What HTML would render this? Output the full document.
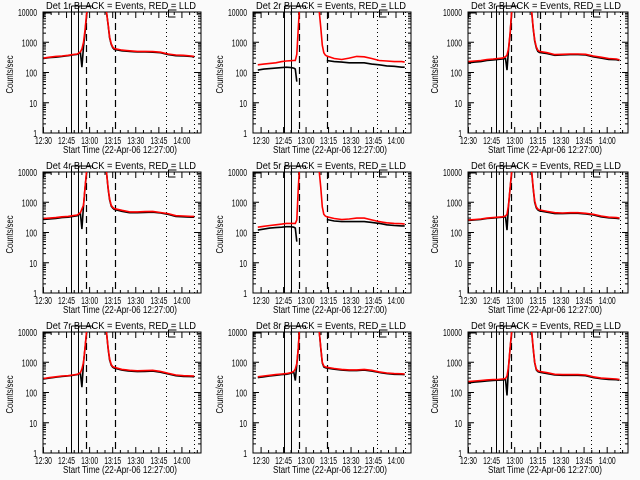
<!DOCTYPE html>
<html><head><meta charset="utf-8"><style>
html,body{margin:0;padding:0;background:#fafafa}
svg{display:block}
text{font-family:"Liberation Sans",sans-serif;font-size:10px;fill:#000}
</style></head><body>
<svg id="chart" width="640" height="480" xmlns="http://www.w3.org/2000/svg"></svg>
<script>
// time samples (minutes after 12:00)
const times = [29,33,37,41,45,48,51,53,54,55,56,57,58,60,65,69,70,71,72,73,74,75,80,85,90,95,100,105,110,115,120,125,127];
const detNames = ["1r","2r","3r","4r","5r","6r","7r","8r","9r"];
const redSeries = [
 [300,320,340,350,370,390,410,480,600,1000,2500,8000,20000,30000,30000,20000,10000,4000,1500,900,700,620,550,520,500,500,490,470,410,380,370,350,340],
 [180,190,200,210,230,240,245,250,250,400,3000,20000,30000,30000,30000,20000,10000,3000,800,450,380,350,290,270,300,340,330,290,250,240,230,230,220],
 [230,240,250,270,280,290,300,330,380,600,2000,10000,20000,30000,30000,20000,10000,3000,1200,700,550,500,450,390,400,410,410,400,350,320,290,280,260],
 [290,300,310,330,340,360,380,450,600,800,3000,10000,20000,30000,30000,20000,10000,3000,1300,800,680,620,540,480,480,490,500,460,420,360,350,340,340],
 [150,160,170,180,190,200,200,200,200,260,3000,20000,30000,30000,30000,20000,10000,3000,700,400,350,330,290,270,280,300,300,260,230,210,200,195,190],
 [260,270,280,300,310,320,330,350,400,800,3000,10000,20000,30000,30000,20000,10000,3000,1100,700,600,560,500,450,440,450,450,430,400,350,320,310,300],
 [290,310,330,350,360,380,400,450,600,1000,3000,10000,20000,30000,30000,20000,10000,3000,1300,850,720,680,580,540,520,530,540,500,430,380,360,355,350],
 [330,350,370,390,410,420,450,500,600,900,3000,20000,30000,30000,30000,20000,10000,3000,1000,750,700,680,620,580,560,560,580,540,480,440,420,415,410],
 [230,240,250,260,270,270,280,290,350,700,3000,10000,20000,30000,30000,20000,10000,3000,1000,600,520,500,450,400,390,390,390,380,330,300,290,280,270]
];
const blackSeries = [
 [290,310,320,340,360,380,400,460,150,700,2000,7000,20000,30000,30000,20000,10000,3800,1400,850,660,580,520,500,480,480,470,450,390,360,350,340,320],
 [120,130,135,140,145,150,145,140,130,50,null,null,null,null,null,null,null,null,null,null,null,250,230,220,210,210,210,190,180,165,160,150,150],
 [210,220,230,250,260,270,280,290,120,550,1800,9000,20000,30000,30000,20000,10000,2800,1100,650,500,460,420,370,380,390,390,380,330,300,270,265,250],
 [270,280,290,310,320,340,360,420,130,750,2800,9000,20000,30000,30000,20000,10000,2800,1200,750,640,580,500,450,450,460,470,440,400,340,330,320,320],
 [120,130,140,145,150,155,155,150,140,50,null,null,null,null,null,null,null,null,null,null,null,270,240,230,230,230,230,215,200,180,170,165,165],
 [250,260,270,290,300,310,320,330,120,750,2800,9000,20000,30000,30000,20000,10000,2800,1000,650,560,520,470,420,420,430,430,410,380,330,305,295,285],
 [280,300,320,340,350,370,390,430,150,950,2800,9000,20000,30000,30000,20000,10000,2800,1200,800,680,640,550,510,490,500,510,470,410,360,340,335,330],
 [310,330,350,370,390,400,430,470,250,850,2800,18000,30000,30000,30000,20000,10000,2800,950,700,660,640,590,550,530,530,550,510,460,420,400,395,390],
 [210,220,230,240,250,255,260,270,80,650,2800,9000,20000,30000,30000,20000,10000,2800,950,560,490,470,420,380,370,370,370,360,310,285,270,265,255]
];
const tickLabels = ["12:30","12:45","13:00","13:15","13:30","13:45","14:00"];
const tickMinutes = [30,45,60,75,90,105,120];
const yTickLabels = ["1","10","100","1000","10000"];
const solidEvents = [46.8,51.3];
const dashedEvents = [56.5,75.3];
const dottedEvents = [108.4,127.1];
const colShift = [1,-1.2,1];

const NS="http://www.w3.org/2000/svg";
const svg=document.getElementById('chart');
const colLeft=[43,253,468], colW=[158,158,160], colT0=[29.7,24.6,29.7], colT1=[132.4,130,133.5];
const rowTop=[12,172,332], H=121;
function mk(tag,attrs,parent){const e=document.createElementNS(NS,tag);for(const k in attrs)e.setAttribute(k,attrs[k]);(parent||svg).appendChild(e);return e;}

for(let p=0;p<9;p++){
  const c=p%3,r=Math.floor(p/3);
  const L=colLeft[c],W=colW[c],T=rowTop[r],B=T+H;
  const g=mk('g',{});
  
  
  const xs=t=>L+(t-colT0[c])/(colT1[c]-colT0[c])*W;
  const xb=t=>xs(t+colShift[c]);
  const ys=v=>B-Math.log10(v)/4*H;
  const cp=mk('clipPath',{id:'cp'+p},g);
  mk('rect',{x:L,y:T,width:W,height:H},cp);
  // title
  const title=mk('text',{x:L+3,y:T-3,textLength:150,lengthAdjust:'spacingAndGlyphs'},g);
  title.textContent='Det '+detNames[p]+' BLACK = Events, RED = LLD';
  
  
  // frame
  const fr=mk('rect',{x:L,y:T,width:W,height:H,fill:'none',stroke:'#000','stroke-width':1},g);
  
  
  // y ticks
  for(let d=0;d<=4;d++){
    const y=ys(Math.pow(10,d));
    mk('line',{x1:L,x2:L+6,y1:y,y2:y,stroke:'#000'},g);
    mk('line',{x1:L+W,x2:L+W-6,y1:y,y2:y,stroke:'#000'},g);
    const s=yTickLabels[d];
    const tl=mk('text',{x:L-6,y:y+4,'text-anchor':'end','font-size':'9',textLength:s.length*3.8,lengthAdjust:'spacingAndGlyphs'},g);
    tl.textContent=s;
    
    
    if(d<4)for(let m=2;m<10;m++){const ym=ys(m*Math.pow(10,d));
      mk('line',{x1:L,x2:L+3,y1:ym,y2:ym,stroke:'#000'},g);
      mk('line',{x1:L+W,x2:L+W-3,y1:ym,y2:ym,stroke:'#000'},g);}
  }
  // x ticks
  for(let t=30;t<=130;t+=5){const x=xs(t);if(x<L||x>L+W)continue;const len=(t%15===0)?6:3;
    mk('line',{x1:x,x2:x,y1:B,y2:B-len,stroke:'#000'},g);
    mk('line',{x1:x,x2:x,y1:T,y2:T+len,stroke:'#000'},g);}
  tickMinutes.forEach((t,i)=>{const tl=mk('text',{x:xs(t)-8.5,y:B+11,'font-size':'10',textLength:17,lengthAdjust:'spacingAndGlyphs'},g);
    tl.textContent=tickLabels[i];
    
    });
  const xt=mk('text',{x:L+20,y:B+20,'font-size':'9',textLength:114,lengthAdjust:'spacingAndGlyphs'},g);
  xt.textContent='Start Time (22-Apr-06 12:27:00)';
  
  
  const yt=mk('text',{x:-19,y:0,'font-size':'9',textLength:38,lengthAdjust:'spacingAndGlyphs',transform:`translate(${L-30},${T+H/2+2}) rotate(-90)`},g);
  yt.textContent='Counts/sec';
  
  
  // event lines
  solidEvents.forEach(t=>{const x=Math.round(xb(t))+.5;const l=mk('line',{x1:x,x2:x,y1:T-6,y2:B,stroke:'#000'},g);
    });
  dashedEvents.forEach(t=>{const x=Math.round(xb(t))+.5;const l=mk('line',{x1:x,x2:x,y1:T,y2:B,stroke:'#000','stroke-dasharray':'7,4','stroke-width':1.2},g);
    });
  dottedEvents.forEach(t=>{const x=Math.round(xb(t))+.5;const l=mk('line',{x1:x,x2:x,y1:T,y2:B,stroke:'#000','stroke-dasharray':'1,3'},g);
    });
  // brackets
  const x1=Math.round(xb(solidEvents[0]))+.5;
  mk('polyline',{points:`${x1},${T-6} ${x1+21},${T-6} ${x1+21},${T-4}`,fill:'none',stroke:'#000'},g);
  mk('polyline',{points:`${L+8},${T+1} ${L+1},${T+1} ${L+1},${T+5}`,fill:'none',stroke:'#000'},g);
  const xd=Math.round(xb(dottedEvents[0]))+2.5;
  mk('polyline',{points:`${xd+8},${T-2} ${xd},${T-2} ${xd},${T+5} ${xd+7},${T+5}`,fill:'none',stroke:'#000'},g);
  // series
  const cg=mk('g',{'clip-path':`url(#cp${p})`},g);
  function path(vals,color,name){let d='',pen=false;
    vals.forEach((v,i)=>{if(v==null){pen=false;return;}const X=xb(times[i]).toFixed(1),Y=ys(v).toFixed(1);d+=(pen?'L':'M')+X+' '+Y+' ';pen=true;});
    const pe=mk('path',{d:d,fill:'none',stroke:color,'stroke-width':1.6},cg);
    
    }
  path(blackSeries[p],'#000','events-series');
  path(redSeries[p],'#f00','lld-series');
}
</script>
</body></html>
